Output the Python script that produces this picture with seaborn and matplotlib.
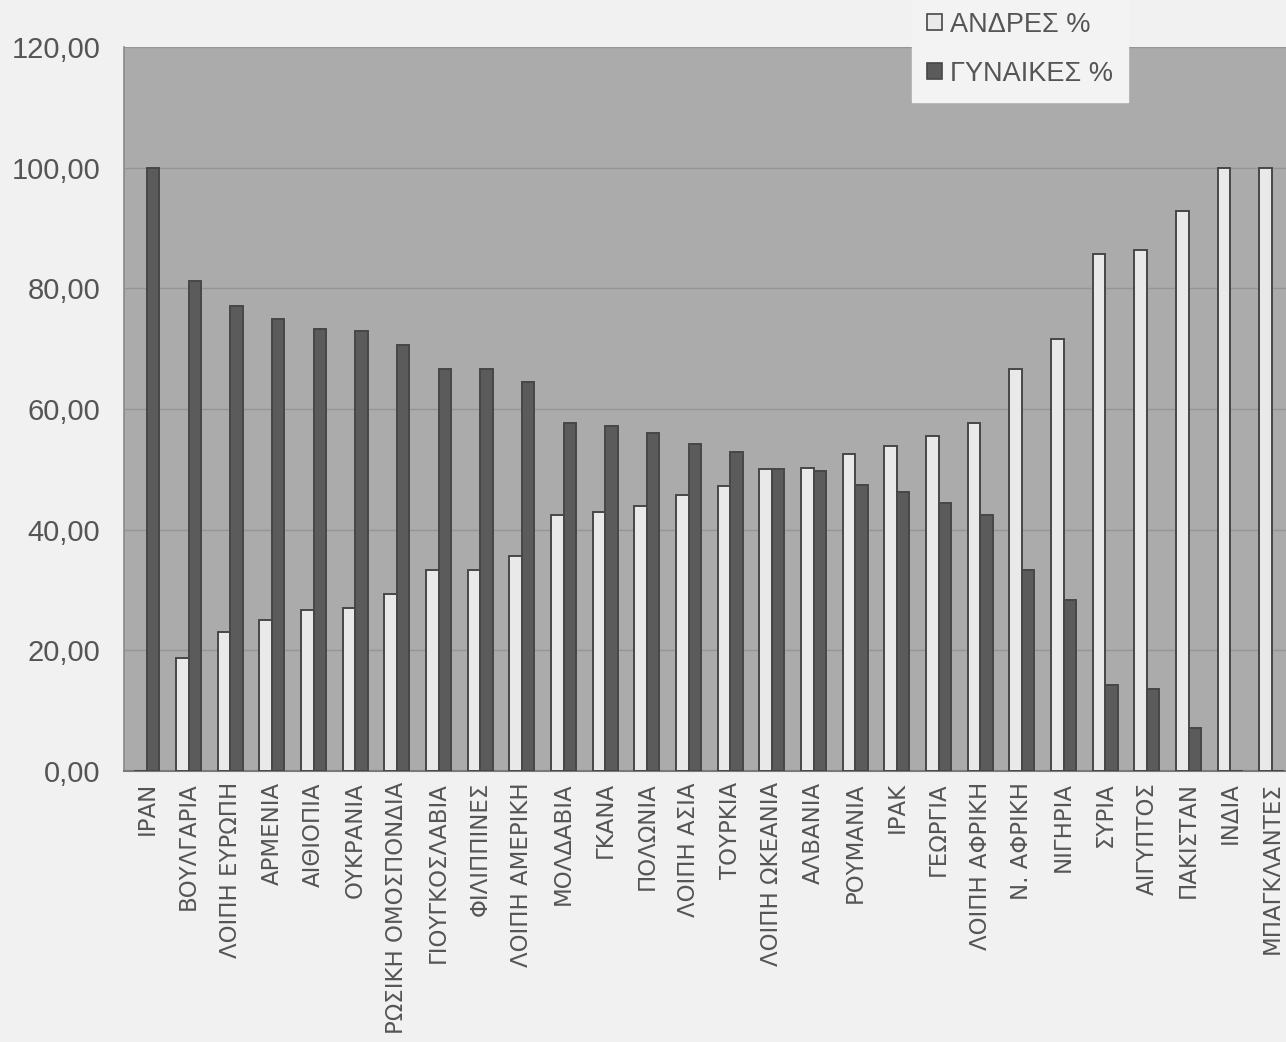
import matplotlib
matplotlib.use("Agg")
import matplotlib.pyplot as plt
from matplotlib.patches import Patch
import seaborn as sns
import pandas as pd
from matplotlib.ticker import FuncFormatter

# Country of origin (sorted by share of women)
countries = [
    "ΙΡΑΝ", "ΒΟΥΛΓΑΡΙΑ", "ΛΟΙΠΗ ΕΥΡΩΠΗ", "ΑΡΜΕΝΙΑ", "ΑΙΘΙΟΠΙΑ", "ΟΥΚΡΑΝΙΑ",
    "ΡΩΣΙΚΗ ΟΜΟΣΠΟΝΔΙΑ", "ΓΙΟΥΓΚΟΣΛΑΒΙΑ", "ΦΙΛΙΠΠΙΝΕΣ", "ΛΟΙΠΗ ΑΜΕΡΙΚΗ",
    "ΜΟΛΔΑΒΙΑ", "ΓΚΑΝΑ", "ΠΟΛΩΝΙΑ", "ΛΟΙΠΗ ΑΣΙΑ", "ΤΟΥΡΚΙΑ", "ΛΟΙΠΗ ΩΚΕΑΝΙΑ",
    "ΑΛΒΑΝΙΑ", "ΡΟΥΜΑΝΙΑ", "ΙΡΑΚ", "ΓΕΩΡΓΙΑ", "ΛΟΙΠΗ ΑΦΡΙΚΗ", "Ν. ΑΦΡΙΚΗ",
    "ΝΙΓΗΡΙΑ", "ΣΥΡΙΑ", "ΑΙΓΥΠΤΟΣ", "ΠΑΚΙΣΤΑΝ", "ΙΝΔΙΑ", "ΜΠΑΓΚΛΑΝΤΕΣ",
]

men_pct = [
    0.0, 18.75, 23.0, 25.0, 26.7, 27.0, 29.4, 33.3, 33.3, 35.6,
    42.4, 42.9, 44.0, 45.8, 47.2, 50.0, 50.3, 52.6, 53.8, 55.6,
    57.6, 66.7, 71.6, 85.7, 86.4, 92.8, 100.0, 100.0,
]

women_pct = [
    100.0, 81.25, 77.0, 75.0, 73.3, 73.0, 70.6, 66.7, 66.7, 64.4,
    57.6, 57.1, 56.0, 54.2, 52.8, 50.0, 49.7, 47.4, 46.2, 44.4,
    42.4, 33.3, 28.4, 14.3, 13.6, 7.2, 0.0, 0.0,
]

series_names = ["ΑΝΔΡΕΣ %", "ΓΥΝΑΙΚΕΣ %"]
yticks = [0, 20, 40, 60, 80, 100, 120]

df = pd.DataFrame({
    "country": countries * 2,
    "value": men_pct + women_pct,
    "series": [series_names[0]] * len(countries) + [series_names[1]] * len(countries),
})

sns.set_theme(style="white")
plt.rcParams["font.family"] = ["Liberation Sans", "DejaVu Sans"]

fig_bg = "#f1f1f1"
plot_bg = "#ababab"
light = "#e9e9e9"
dark = "#5b5b5b"
text_col = "#555555"

fig = plt.figure(figsize=(12.86, 10.42), dpi=100, facecolor=fig_bg)
ax = fig.add_axes([124 / 1286, 1 - 771 / 1042, 1 - 124 / 1286 + 0.002, (771 - 47) / 1042])
ax.set_facecolor(plot_bg)

sns.barplot(
    data=df, x="country", y="value", hue="series", order=countries,
    hue_order=series_names, palette={series_names[0]: light, series_names[1]: dark},
    width=0.6, edgecolor="#474747", linewidth=1.4, legend=False, ax=ax, zorder=3,
)

ax.set_ylim(0, 120)
ax.set_xlim(-0.55, len(countries) - 0.6)
ax.set_yticks(yticks)
ax.yaxis.set_major_formatter(FuncFormatter(lambda v, p: f"{v:.2f}".replace(".", ",")))
ax.grid(axis="y", color="#959595", linewidth=1.0, zorder=1)
ax.set_axisbelow(True)

for side in ["top", "right"]:
    ax.spines[side].set_visible(False)
ax.spines["left"].set_color("#8a8a8a")
ax.spines["left"].set_linewidth(1.2)
ax.spines["bottom"].set_color("#7a7a7a")
ax.spines["bottom"].set_linewidth(1.5)

ax.set_xlabel("")
ax.set_ylabel("")
ax.tick_params(axis="y", length=0, pad=17, labelsize=21, labelcolor=text_col)
ax.tick_params(axis="x", length=0, pad=8, labelsize=16.5, labelcolor=text_col)
plt.setp(ax.get_xticklabels(), rotation=90, family=["DejaVu Sans"])

handles = [
    Patch(facecolor=light, edgecolor="#474747", linewidth=1.2, label=series_names[0]),
    Patch(facecolor=dark, edgecolor="#474747", linewidth=1.2, label=series_names[1]),
]
leg = fig.legend(
    handles=handles, loc="upper left", bbox_to_anchor=(912 / 1286, 1.003),
    frameon=True, fancybox=False, facecolor="#f3f3f3", edgecolor="#f3f3f3",
    fontsize=19.5, handlelength=0.55, handleheight=0.55, handletextpad=0.3,
    labelspacing=0.85, borderpad=0.55, borderaxespad=0.0, labelcolor=text_col,
)
leg.get_frame().set_alpha(1.0)

fig.savefig("out.png", dpi=100, facecolor=fig_bg)
